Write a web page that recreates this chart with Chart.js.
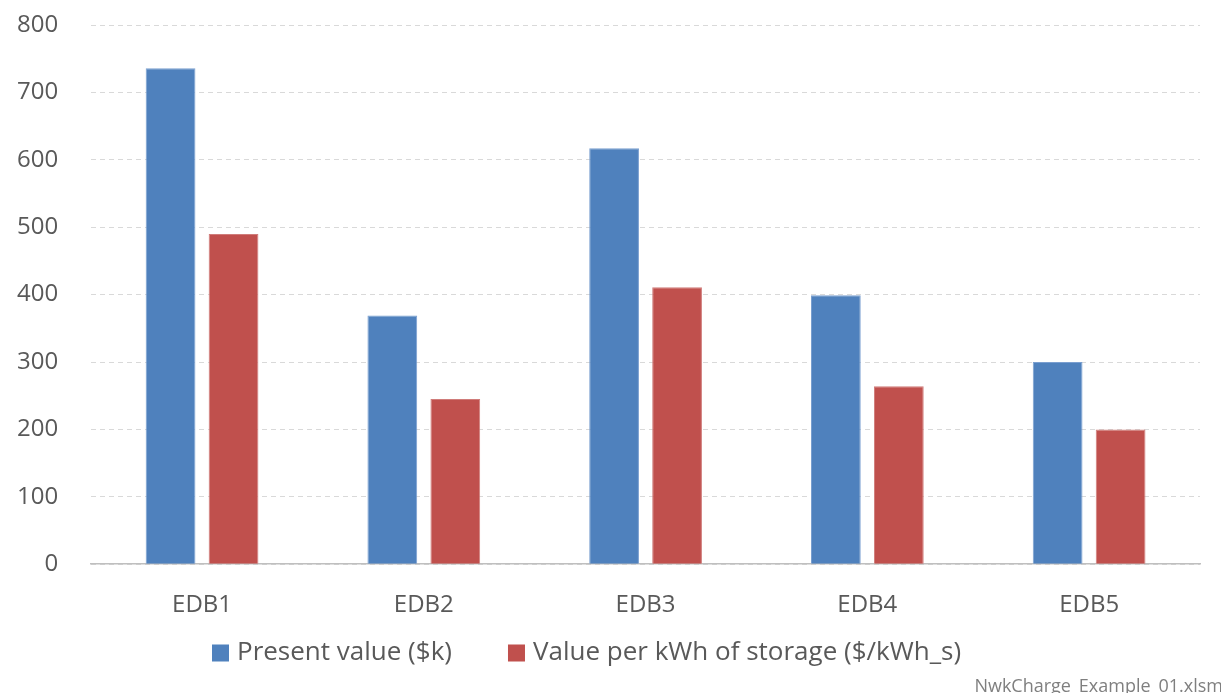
<!DOCTYPE html>
<html>
<head>
<meta charset="utf-8">
<style>
  html, body { margin: 0; padding: 0; background: #ffffff; }
  #wrap { position: relative; width: 1221px; height: 693px; overflow: hidden; }
  #footer { position: absolute; right: -2px; top: 673px; font-family: "Open Sans", sans-serif;
            font-size: 18px; color: #7f7f7f; white-space: nowrap; line-height: 24px; }
</style>
<script src="https://cdn.jsdelivr.net/npm/chart.js@4/dist/chart.umd.min.js"></script>
</head>
<body>
<div id="wrap">
  <canvas id="c" width="1221" height="693"></canvas>
  <div id="footer">NwkCharge_Example_01.xlsm</div>
</div>
<script>
// Distribution businesses compared
const categories = ['EDB1', 'EDB2', 'EDB3', 'EDB4', 'EDB5'];
// Present value, $k
const presentValue = [736, 369, 617, 399, 300];
// Value per kWh of storage, $/kWh_s
const valuePerKwh = [490, 245, 411, 264, 200];
const yTicks = [0, 100, 200, 300, 400, 500, 600, 700, 800];

const FONT = '"Open Sans", sans-serif';
const TEXT = '#595959';

// Single-row legend under the axis, built from the chart's own legend items
const rowLegend = {
  id: 'rowLegend',
  afterDraw(chart, args, opts) {
    const ctx = chart.ctx;
    const items = Chart.defaults.plugins.legend.labels.generateLabels(chart);
    ctx.save();
    ctx.font = `${opts.size}px ${FONT}`;
    ctx.textBaseline = 'middle';
    ctx.textAlign = 'left';
    let x = opts.x;
    const y = opts.y;
    items.forEach((it) => {
      ctx.fillStyle = it.fillStyle;
      ctx.fillRect(x, y - opts.box / 2, opts.box, opts.box);
      ctx.fillStyle = TEXT;
      const tx = x + opts.box + opts.textGap;
      ctx.fillText(it.text, tx, y);
      x = tx + ctx.measureText(it.text).width + opts.itemGap;
    });
    ctx.restore();
  }
};

new Chart(document.getElementById('c'), {
  type: 'bar',
  data: {
    labels: categories,
    datasets: [
      { label: 'Present value ($k)', data: presentValue, backgroundColor: '#4F81BD',
        borderColor: '#7A9FD0', borderWidth: 1 },
      { label: 'Value per kWh of storage ($/kWh_s)', data: valuePerKwh, backgroundColor: '#C0504D',
        borderColor: '#D07C7A', borderWidth: 1 }
    ]
  },
  plugins: [rowLegend],
  options: {
    responsive: false,
    animation: false,
    devicePixelRatio: 1,
    layout: { padding: { left: -16, right: 21, top: 25, bottom: 46 } },
    datasets: { bar: { categoryPercentage: 0.568, barPercentage: 0.79 } },
    scales: {
      x: {
        grid: { display: false, drawTicks: false },
        border: { display: true, color: '#bfbfbf', width: 1.5 },
        ticks: { color: TEXT, font: { family: FONT, size: 24 }, padding: 27 }
      },
      y: {
        min: 0, max: 800,
        afterBuildTicks: (s) => { s.ticks = yTicks.map(v => ({ value: v })); },
        // the wide label gap is horizontal only; keep it out of the top/bottom margins
        afterFit: (s) => { s.paddingTop = 0; s.paddingBottom = 0; },
        grid: { color: '#d9d9d9', lineWidth: 1, drawTicks: false },
        border: { display: false, dash: [5, 4] },
        ticks: { color: TEXT, font: { family: FONT, size: 24 }, padding: 33 }
      }
    },
    plugins: {
      legend: { display: false },
      tooltip: { enabled: false },
      rowLegend: { x: 212, y: 653, size: 26, box: 17, textGap: 8, itemGap: 56 }
    }
  }
});
</script>
</body>
</html>
